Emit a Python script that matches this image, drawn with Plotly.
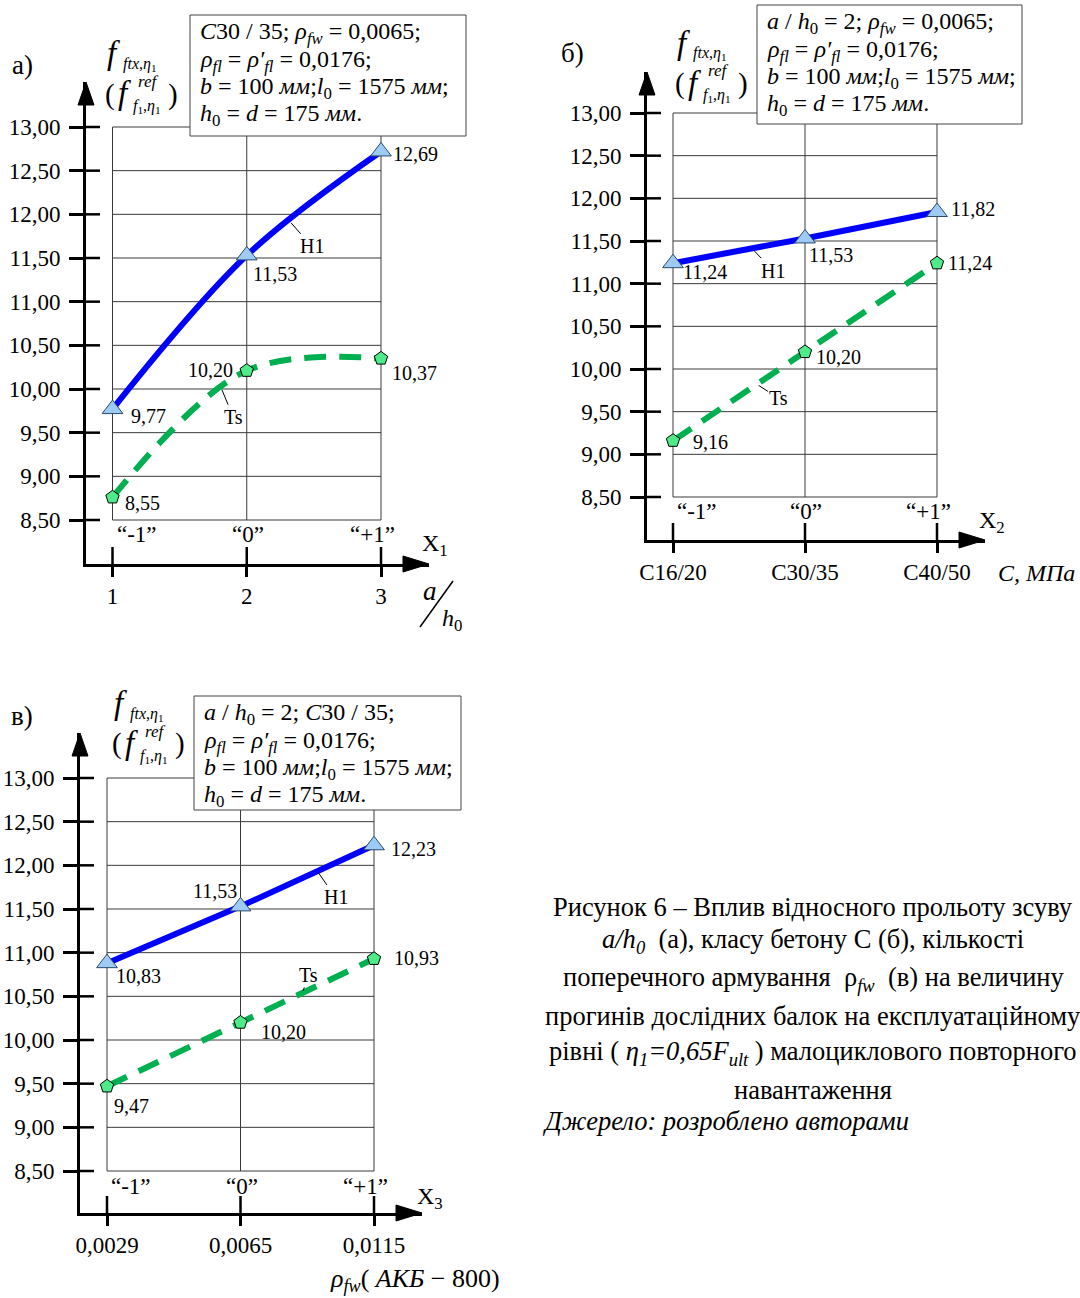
import plotly.graph_objects as go

# ---------------- data ----------------
levels = [-1, 0, 1]
coded_ticks = ["“-1”", "“0”", "“+1”"]
y_ticks = [8.5, 9.0, 9.5, 10.0, 10.5, 11.0, 11.5, 12.0, 12.5, 13.0]

a_ticks = ["1", "2", "3"]
a_h1 = [9.77, 11.53, 12.72]
a_ts = [8.76, 10.21, 10.35]
a_h1_lbl = ["9,77", "11,53", "12,69"]
a_ts_lbl = ["8,55", "10,20", "10,37"]

b_ticks = ["C16/20", "C30/35", "C40/50"]
b_h1 = [11.24, 11.53, 11.84]
b_ts = [9.16, 10.20, 11.24]
b_h1_lbl = ["11,24", "11,53", "11,82"]
b_ts_lbl = ["9,16", "10,20", "11,24"]

c_ticks = ["0,0029", "0,0065", "0,0115"]
c_h1 = [10.88, 11.53, 12.23]
c_ts = [9.47, 10.20, 10.93]
c_h1_lbl = ["10,83", "11,53", "12,23"]
c_ts_lbl = ["9,47", "10,20", "10,93"]

# ---------------- layout geometry (pixels) ----------------
W, H = 1080, 1298
FONT = "Liberation Serif"


def px(x):
    return x / W


def py(y):
    return 1 - y / H


geoms = [
    dict(gx0=112.5, gx1=381, y13=127, y85=520, axx=86, axy=564, top=82, right=429,
         coded_y=534, shape="spline"),
    dict(gx0=673, gx1=937, y13=113, y85=497, axx=647, axy=540, top=72, right=985,
         coded_y=512, shape="linear"),
    dict(gx0=107, gx1=374, y13=778, y85=1171, axx=80, axy=1213, top=733, right=422,
         coded_y=1186, shape="linear"),
]

panels = [
    (a_ticks, a_h1, a_ts, a_h1_lbl, a_ts_lbl),
    (b_ticks, b_h1, b_ts, b_h1_lbl, b_ts_lbl),
    (c_ticks, c_h1, c_ts, c_h1_lbl, c_ts_lbl),
]

label_offsets = [
    ([(36, 7), (28, 19), (34, 3)], [(30, 6), (-36, -1), (33, 15)]),
    ([(32, 9), (26, 17), (36, -3)], [(37, 1), (33, 5), (33, 0)]),
    ([(31, 13), (-26, -15), (39, 4)], [(24, 20), (43, 9), (42, -1)]),
]

# leader annotations: (text, x, y, ax, ay)
leaders = [
    [("H1", 0.32, 11.92, 22, 25), ("Ts", -0.19, 10.01, 12, 29)],
    [("H1", -0.40, 11.41, 21, 22), ("Ts", -0.364, 9.82, 22, 14)],
    [("H1", 0.577, 11.93, 18, 26), ("Ts", 0.464, 10.54, 6, -18)],
]

fig = go.Figure()
shapes = []
annotations = []
layout_axes = {}

BLUE = "#0000FF"
GREEN = "#00B050"

for i, (g, (ticks, h1, ts, h1_lbl, ts_lbl), (h1_off, ts_off), lead) in enumerate(
        zip(geoms, panels, label_offsets, leaders)):
    n = "" if i == 0 else str(i + 1)
    xa, ya = "x" + n, "y" + n
    pxu = (g["gx1"] - g["gx0"]) / 2.0
    pyu = (g["y85"] - g["y13"]) / 4.5
    xr = [-1 - (g["gx0"] - g["axx"]) / pxu, 1 + (g["right"] - g["gx1"]) / pxu]
    yr = [8.5 - (g["axy"] - g["y85"]) / pyu, 13 + (g["y13"] - g["top"]) / pyu]
    dom_w = g["right"] - g["axx"]
    dom_h = g["axy"] - g["top"]

    layout_axes["xaxis" + n] = dict(
        domain=[px(g["axx"]), px(g["right"])], range=xr, anchor=ya,
        showline=True, linewidth=3, linecolor="black", showgrid=False, zeroline=False,
        ticks="outside", ticklen=10, tickwidth=2.5, tickcolor="black",
        tickvals=levels, ticktext=ticks, tickfont=dict(family=FONT, size=23, color="black"),
        ticklabelstandoff=-1, automargin=False, fixedrange=True)
    layout_axes["yaxis" + n] = dict(
        domain=[py(g["axy"]), py(g["top"])], range=yr, anchor=xa,
        showline=True, linewidth=3, linecolor="black", showgrid=False, zeroline=False,
        ticks="outside", ticklen=14, tickwidth=2.5, tickcolor="black",
        tickvals=y_ticks, tickformat=".2f", tickfont=dict(family=FONT, size=23, color="black"),
        ticklabelstandoff=4, automargin=False, fixedrange=True)

    # grid lines
    for v in y_ticks:
        shapes.append(dict(type="line", xref=xa, yref=ya, x0=levels[0], x1=levels[-1], y0=v, y1=v,
                           line=dict(color="#3a3a3a", width=1), layer="below"))
    for lv in levels:
        shapes.append(dict(type="line", xref=xa, yref=ya, x0=lv, x1=lv, y0=y_ticks[0], y1=y_ticks[-1],
                           line=dict(color="#3a3a3a", width=1), layer="below"))
    # inner tick stubs (crossing the axis lines)
    for v in y_ticks:
        shapes.append(dict(type="line", xref=xa + " domain", yref=ya, x0=0, x1=14 / dom_w, y0=v, y1=v,
                           line=dict(color="black", width=2.5)))
    for lv in levels:
        shapes.append(dict(type="line", xref=xa, yref=ya + " domain", x0=lv, x1=lv, y0=0, y1=17 / dom_h,
                           line=dict(color="black", width=2.5)))
    # arrow heads
    ax_, ay_, tp, rt = g["axx"], g["axy"], g["top"], g["right"]
    shapes.append(dict(type="path", xref="paper", yref="paper",
                       path=f"M {px(ax_)},{py(tp)} L {px(ax_-8)},{py(tp+23)} L {px(ax_+8)},{py(tp+23)} Z",
                       fillcolor="black", line=dict(color="black", width=1)))
    shapes.append(dict(type="path", xref="paper", yref="paper",
                       path=f"M {px(rt)},{py(ay_)} L {px(rt-26)},{py(ay_-8)} L {px(rt-26)},{py(ay_+8)} Z",
                       fillcolor="black", line=dict(color="black", width=1)))

    # traces
    fig.add_trace(go.Scatter(
        x=levels, y=ts, xaxis=xa, yaxis=ya, mode="lines+markers",
        line=dict(color=GREEN, width=6, dash="22px,13px", shape=g["shape"]),
        marker=dict(symbol="pentagon", size=14, color="#4DEB8A", line=dict(color="black", width=1)),
        showlegend=False, hoverinfo="skip"))
    fig.add_trace(go.Scatter(
        x=levels, y=h1, xaxis=xa, yaxis=ya, mode="lines+markers",
        line=dict(color=BLUE, width=6, shape=g["shape"]),
        marker=dict(symbol="triangle-up", size=18, color="#9DCBF5", line=dict(color="#2b4a6b", width=1)),
        showlegend=False, hoverinfo="skip"))

    # value labels
    for vals, lbls, offs in ((h1, h1_lbl, h1_off), (ts, ts_lbl, ts_off)):
        for lv, v, t, (dx, dy) in zip(levels, vals, lbls, offs):
            annotations.append(dict(x=lv, y=v, xref=xa, yref=ya, text=t, showarrow=False,
                                    xshift=dx, yshift=-dy, font=dict(family=FONT, size=20, color="black")))
    # leaders H1 / Ts
    for t, lx, lyv, dax, day in lead:
        annotations.append(dict(x=lx, y=lyv, xref=xa, yref=ya, text=t, showarrow=True, arrowhead=0,
                                arrowwidth=1, arrowcolor="black", ax=dax, ay=day, standoff=2,
                                font=dict(family=FONT, size=20, color="black")))
    # coded level labels
    for lv, t, anc, sh in zip(levels, coded_ticks, ["left", "center", "right"], [2, 1, 16]):
        annotations.append(dict(x=lv, y=py(g["coded_y"]), xref=xa, yref="paper", text=t, showarrow=False,
                                xanchor=anc, yanchor="middle", xshift=sh,
                                font=dict(family=FONT, size=23, color="black")))

fig.update_layout(**layout_axes)


def txt(x, y, s, size=23, xanchor="center", yanchor="middle", align="center"):
    annotations.append(dict(x=px(x), y=py(y), xref="paper", yref="paper", text=s, showarrow=False,
                            xanchor=xanchor, yanchor=yanchor, align=align,
                            font=dict(family=FONT, size=size, color="black")))


# panel letters
txt(22, 65, "а)", 27)
txt(572, 53, "б)", 27)
txt(22, 716, "в)", 27)

# y-axis titles (composed)
for ox, oy in [(0, 0), (570, -10), (7, 650)]:
    txt(113 + ox, 53 + oy, "<i>f</i>", 33)
    txt(121 + ox, 64 + oy, "<i>ftx</i>,<i>η</i><sub>1</sub>", 16, xanchor="left")
    txt(110 + ox, 94 + oy, "(", 29)
    txt(124 + ox, 93 + oy, "<i>f</i>", 33)
    txt(136 + ox, 81 + oy, "<i>ref</i>", 17, xanchor="left")
    txt(131 + ox, 106 + oy, "<i>f</i><sub>1</sub>,<i>η</i><sub>1</sub>", 16, xanchor="left")
    txt(173 + ox, 94 + oy, ")", 29)

# x axis titles
txt(435, 545, "X<sub>1</sub>", 24)
txt(430, 591, "<i>a</i>", 27)
txt(452, 620, "<i>h</i><sub>0</sub>", 24)
shapes.append(dict(type="line", xref="paper", yref="paper", x0=px(420), y0=py(627), x1=px(453), y1=py(581),
                   line=dict(color="black", width=1.5)))
txt(992, 522, "X<sub>2</sub>", 24)
txt(1036, 573, "<i>С, МПа</i>", 24)
txt(430, 1198, "X<sub>3</sub>", 24)
txt(415, 1280, "<i>ρ</i><sub><i>fw</i></sub>( <i>АКБ</i> − 800)", 26)

# info boxes (box drawn as a shape, each line as its own text)
box_lines = [
    ["<i>C</i>30 / 35; <i>ρ</i><sub><i>fw</i></sub> = 0,0065;",
     "<i>ρ</i><sub><i>fl</i></sub> = <i>ρ′</i><sub><i>fl</i></sub> = 0,0176;",
     "<i>b</i> = 100 <i>мм</i>;<i>l</i><sub>0</sub> = 1575 <i>мм</i>;",
     "<i>h</i><sub>0</sub> = <i>d</i> = 175 <i>мм</i>."],
    ["<i>a</i> / <i>h</i><sub>0</sub> = 2; <i>ρ</i><sub><i>fw</i></sub> = 0,0065;",
     "<i>ρ</i><sub><i>fl</i></sub> = <i>ρ′</i><sub><i>fl</i></sub> = 0,0176;",
     "<i>b</i> = 100 <i>мм</i>;<i>l</i><sub>0</sub> = 1575 <i>мм</i>;",
     "<i>h</i><sub>0</sub> = <i>d</i> = 175 <i>мм</i>."],
    ["<i>a</i> / <i>h</i><sub>0</sub> = 2; <i>C</i>30 / 35;",
     "<i>ρ</i><sub><i>fl</i></sub> = <i>ρ′</i><sub><i>fl</i></sub> = 0,0176;",
     "<i>b</i> = 100 <i>мм</i>;<i>l</i><sub>0</sub> = 1575 <i>мм</i>;",
     "<i>h</i><sub>0</sub> = <i>d</i> = 175 <i>мм</i>."],
]
box_geo = [(190, 15, 466, 136), (757, 5, 1022, 124), (194, 696, 461, 810)]
line_dy = [18, 46, 73, 100]
for lines, (x0, y0, x1, y1) in zip(box_lines, box_geo):
    shapes.append(dict(type="rect", xref="paper", yref="paper", x0=px(x0), x1=px(x1), y0=py(y0), y1=py(y1),
                       fillcolor="white", line=dict(color="#444444", width=1), layer="above"))
    for t, d in zip(lines, line_dy):
        txt(x0 + 8, y0 + d, t, 24, xanchor="left")

# caption
cap = [
    (907, "Рисунок 6 – Вплив відносного прольоту зсуву"),
    (941, "<i>a/h<sub>0</sub></i>  (а), класу бетону С (б), кількості"),
    (979, "поперечного армування  ρ<sub><i>fw</i></sub>  (в) на величину"),
    (1016, "прогинів дослідних балок на експлуатаційному"),
    (1053, "рівні ( <i>η<sub>1</sub>=0,65F<sub>ult</sub></i> ) малоциклового повторного"),
    (1090, "навантаження"),
]
for yy, t in cap:
    txt(813, yy, t, 26.5)
txt(540, 1121, "<i>Джерело: розроблено авторами</i>", 26.5, xanchor="left")

fig.update_layout(
    width=W, height=H, margin=dict(l=0, r=0, t=0, b=0),
    paper_bgcolor="white", plot_bgcolor="rgba(0,0,0,0)",
    separators=", ", shapes=shapes, annotations=annotations, showlegend=False,
    font=dict(family=FONT, color="black"),
)
fig.write_html("out.html", config={"displayModeBar": False},
               post_script="document.body.style.margin='0px';")
